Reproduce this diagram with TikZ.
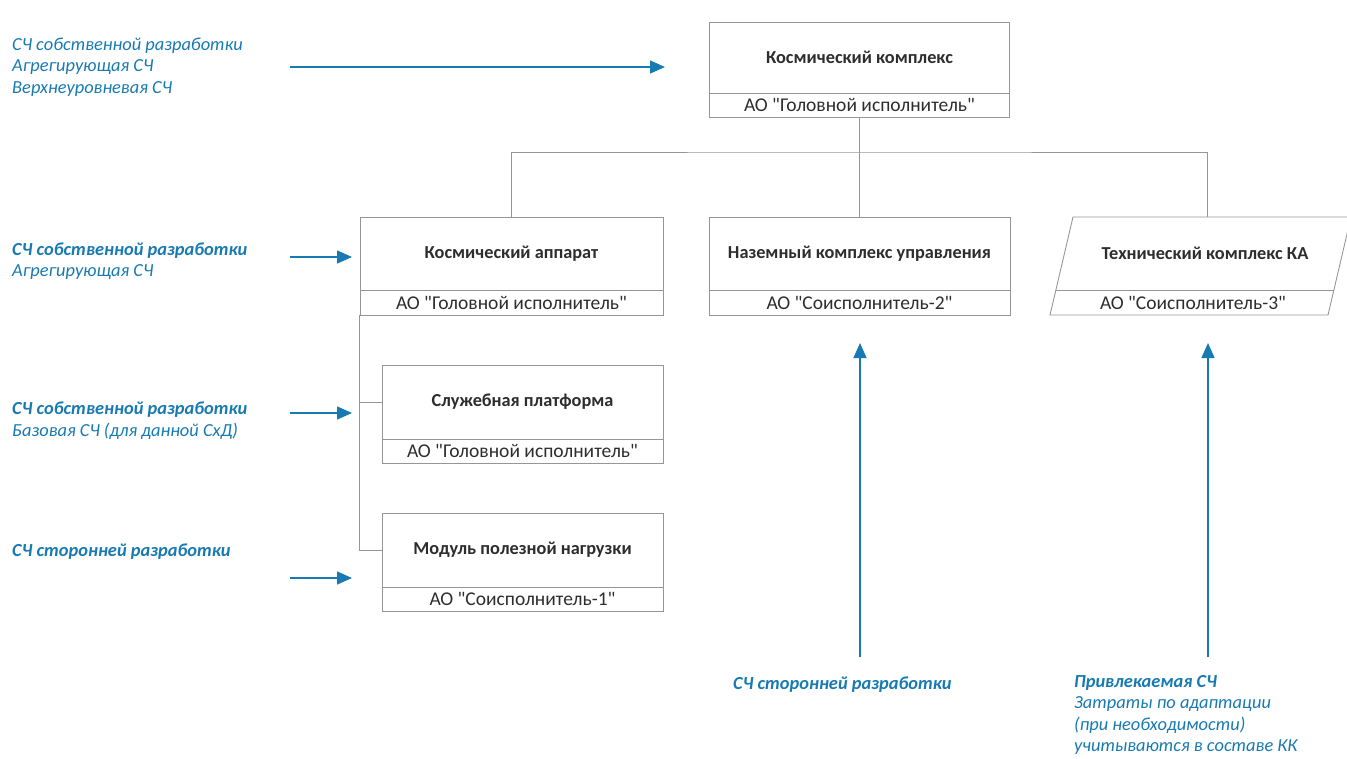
\documentclass[tikz,border=0pt]{standalone}
\usepackage{fontspec}
\setmainfont{Carlito}[Ligatures=TeXOff]
\usetikzlibrary{arrows.meta}
\definecolor{lblue}{RGB}{24,122,178}
\definecolor{boxline}{RGB}{150,150,150}
\definecolor{boxtext}{RGB}{45,45,45}
\begin{document}
\begin{tikzpicture}[x=1pt,y=-1pt,
  titlebox/.style={draw=boxline, line width=0.9pt, inner sep=0pt, font=\fontsize{18.3}{21}\selectfont\bfseries, text=boxtext},
  orgbox/.style={draw=boxline, line width=0.9pt, inner sep=0pt, font=\fontsize{19.5}{21}\selectfont, text=boxtext},
  plain/.style={inner sep=0pt, text=boxtext},
  conn/.style={draw=boxline, line width=0.9pt},
  barrow/.style={draw=lblue, line width=1.5pt, -{Triangle[length=15pt,width=13pt]}},
  lbl/.style={text=lblue, anchor=west, align=left, inner sep=0pt, font=\fontsize{18.4}{21.5}\selectfont\itshape},
]
\useasboundingbox (0,0) rectangle (1347,758);

% top box
\node[titlebox, minimum width=300pt, minimum height=71pt] (kk) at (859.5,57.5) {Космический комплекс};
\node[orgbox, minimum width=300pt, minimum height=24pt] (kko) at (859.5,105) {АО "Головной исполнитель"};

% second level
\node[titlebox, minimum width=303pt, minimum height=73pt] (ka) at (511.5,253.5) {Космический аппарат};
\node[orgbox, minimum width=303pt, minimum height=25pt] (kao) at (511.5,302.5) {АО "Головной исполнитель"};
\node[titlebox, minimum width=301pt, minimum height=73pt] (nku) at (859.5,253.5) {Наземный комплекс управления};
\node[orgbox, minimum width=301pt, minimum height=25pt] (nkuo) at (859.5,302.5) {АО "Соисполнитель-2"};

% parallelogram
\coordinate (tkTL) at (1073,217);
\coordinate (tkTR) at (1351,217);
\coordinate (tkBR) at (1328,315);
\coordinate (tkBL) at (1050,315);
\coordinate (tkDL) at (1056,290);
\coordinate (tkDR) at (1334,290);
\coordinate (tktop) at (1207,217);
\draw[conn] (tkTL) -- (tkTR) -- (tkBR) -- (tkBL) -- cycle;
\draw[conn] (tkDL) -- (tkDR);
\node[plain, font=\fontsize{18.3}{21}\selectfont\bfseries] (tk) at (1205,253.5) {Технический комплекс КА};
\node[plain, font=\fontsize{19.5}{21}\selectfont] (tko) at (1193,302.5) {АО "Соисполнитель-3"};

% third level
\node[titlebox, minimum width=281pt, minimum height=74pt] (sp) at (522.5,402) {Служебная платформа};
\node[orgbox, minimum width=281pt, minimum height=24pt] (spo) at (522.5,451) {АО "Головной исполнитель"};
\node[titlebox, minimum width=281pt, minimum height=74pt] (mp) at (522.5,550) {Модуль полезной нагрузки};
\node[orgbox, minimum width=281pt, minimum height=24pt] (mpo) at (522.5,599) {АО "Соисполнитель-1"};

% tree connectors
\coordinate (hub) at (859.5,152);
\draw[conn] (kko.south) -- (hub);
\draw[conn] (ka.north) |- (hub) -| (tktop);
\draw[conn] (hub) -- (nku.north);
\draw[conn] (kao.south west) |- (sp.west);
\draw[conn] (kao.south west) |- (mp.west);

% labels
\node[lbl] (l1) at (12,67) {СЧ собственной разработки\\Агрегирующая СЧ\\Верхнеуровневая СЧ};
\node[lbl] (l2) at (12,261) {\textbf{СЧ собственной разработки}\\Агрегирующая СЧ};
\node[lbl] (l3) at (12,420.5) {\textbf{СЧ собственной разработки}\\Базовая СЧ (для данной СхД)};
\node[lbl] (l4) at (12,552) {\textbf{СЧ сторонней разработки}};
\node[lbl] (l5) at (733,685) {\textbf{СЧ сторонней разработки}};
\node[lbl] (l6) at (1074,715) {\textbf{Привлекаемая СЧ}\\Затраты по адаптации\\(при необходимости)\\учитываются в составе КК};

% blue arrows
\coordinate (a1s) at (290,67);  \coordinate (a1e) at (665,67);
\coordinate (a2s) at (290,257); \coordinate (a2e) at (352,257);
\coordinate (a3s) at (290,413); \coordinate (a3e) at (352,413);
\coordinate (a4s) at (290,578); \coordinate (a4e) at (352,578);
\coordinate (v1s) at (860,657); \coordinate (v1e) at (860,343);
\coordinate (v2s) at (1208,657); \coordinate (v2e) at (1208,343);
\draw[barrow] (a1s) -- (a1e);
\draw[barrow] (a2s) -- (a2e);
\draw[barrow] (a3s) -- (a3e);
\draw[barrow] (a4s) -- (a4e);
\draw[barrow] (v1s) -- (v1e);
\draw[barrow] (v2s) -- (v2e);
\end{tikzpicture}
\end{document}
